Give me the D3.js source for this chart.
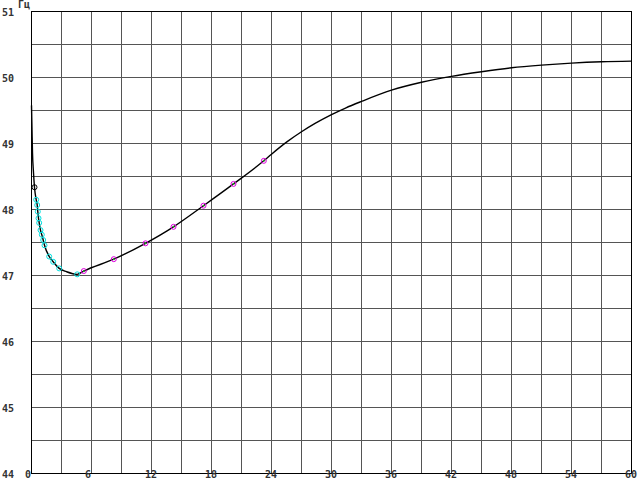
<!DOCTYPE html>
<html><head><meta charset="utf-8">
<script src="https://cdn.jsdelivr.net/npm/d3@7"></script>
<style>
html,body{margin:0;padding:0;background:#fff;}
svg{display:block;}
text{font-family:"DejaVu Sans Mono",monospace;font-size:10px;fill:#333;font-weight:bold;}
</style>
</head><body>
<script>
const curveTime = [0,0.05,0.1,0.2,0.3,0.47,0.57,0.63,0.7,0.77,0.9,1.03,1.17,1.3,1.77,2.17,2.77,3.5,4.57,5.23,8.23,11.4,14.2,17.2,20.2,23.23,24,25.57,27,28.4,30,31.4,33,36,39,42,45,48,51,54,57,60];
const curveFreq = [49.57,49.2,48.85,48.55,48.33,48.14,48.06,47.96,47.86,47.79,47.68,47.61,47.53,47.45,47.28,47.2,47.1,47.05,47.01,47.06,47.24,47.48,47.73,48.05,48.38,48.73,48.83,49.02,49.17,49.3,49.43,49.53,49.63,49.8,49.92,50.01,50.08,50.14,50.18,50.21,50.23,50.24];
const cyanTime = [0.47,0.57,0.63,0.7,0.77,0.9,1.03,1.17,1.3,1.77,2.17,2.77,4.57];
const cyanFreq = [48.14,48.06,47.96,47.86,47.79,47.68,47.61,47.53,47.45,47.28,47.2,47.1,47.01];
const magentaTime = [5.23,8.23,11.4,14.2,17.2,20.2,23.23];
const magentaFreq = [47.06,47.24,47.48,47.73,48.05,48.38,48.73];
const blackTime = [0.3];
const blackFreq = [48.33];
const xTickLabels = [0,6,12,18,24,30,36,42,48,54,60];
const yTickLabels = [44,45,46,47,48,49,50,51];
const yUnit = "Гц";

const W=642,H=482;
const x = d3.scaleLinear().domain([0,60]).range([31,631]);
const y = d3.scaleLinear().domain([44,51]).range([473,11]);
const svg = d3.select("body").append("svg").attr("width",W).attr("height",H);

const g = svg.append("g").attr("shape-rendering","crispEdges");
g.selectAll("line.vx").data(d3.range(3,60,3)).join("line")
 .attr("x1",d=>x(d)+0.5).attr("x2",d=>x(d)+0.5).attr("y1",y(51)).attr("y2",y(44))
 .attr("stroke","#555").attr("stroke-width",1);
g.selectAll("line.hy").data(d3.range(44.5,51,0.5)).join("line")
 .attr("y1",d=>y(d)+0.5).attr("y2",d=>y(d)+0.5).attr("x1",x(0)).attr("x2",x(60))
 .attr("stroke","#555").attr("stroke-width",1);
g.append("line").attr("x1",x(0)+0.5).attr("x2",x(0)+0.5).attr("y1",y(51)).attr("y2",y(44)+1).attr("stroke","#000");
g.append("line").attr("x1",x(60)+0.5).attr("x2",x(60)+0.5).attr("y1",y(51)).attr("y2",y(44)+1).attr("stroke","#000");
g.append("line").attr("x1",x(0)).attr("x2",x(60)+1).attr("y1",y(51)+0.5).attr("y2",y(51)+0.5).attr("stroke","#000");
g.append("line").attr("x1",x(0)).attr("x2",x(60)+1).attr("y1",y(44)+0.5).attr("y2",y(44)+0.5).attr("stroke","#000");

svg.selectAll("text.xl").data(xTickLabels).join("text")
 .attr("x",d=>x(d)-6).attr("y",478).text(d=>d);
svg.selectAll("text.yl").data(yTickLabels).join("text")
 .attr("x",2).attr("y",d=>y(d)+5).text(d=>d);
svg.append("text").attr("x",18).attr("y",8).text(yUnit);

const pts = curveTime.map((t,i)=>[t,curveFreq[i]]);
svg.append("path").datum(pts)
 .attr("d",d3.line().x(d=>x(d[0])+0.5).y(d=>y(d[1])).curve(d3.curveMonotoneX))
 .attr("fill","none").attr("stroke","#000").attr("stroke-width",1.4);

function markers(ts,fs,stroke,dot){
  const gg = svg.append("g");
  const data = ts.map((t,i)=>[t,fs[i]]);
  gg.selectAll("circle.m").data(data).join("circle")
   .attr("cx",d=>x(d[0])+0.5).attr("cy",d=>y(d[1])).attr("r",2.5)
   .attr("fill","none").attr("stroke",stroke).attr("stroke-width",1);
  if(dot){
    gg.selectAll("circle.d").data(data).join("circle")
     .attr("cx",d=>x(d[0])+0.5).attr("cy",d=>y(d[1])).attr("r",1)
     .attr("fill",dot);
  }
}
markers(cyanTime,cyanFreq,"#00e0e0",null);
markers(magentaTime,magentaFreq,"#e000e0","#2e9a2e");
markers(blackTime,blackFreq,"#000",null);
</script>
</body></html>
